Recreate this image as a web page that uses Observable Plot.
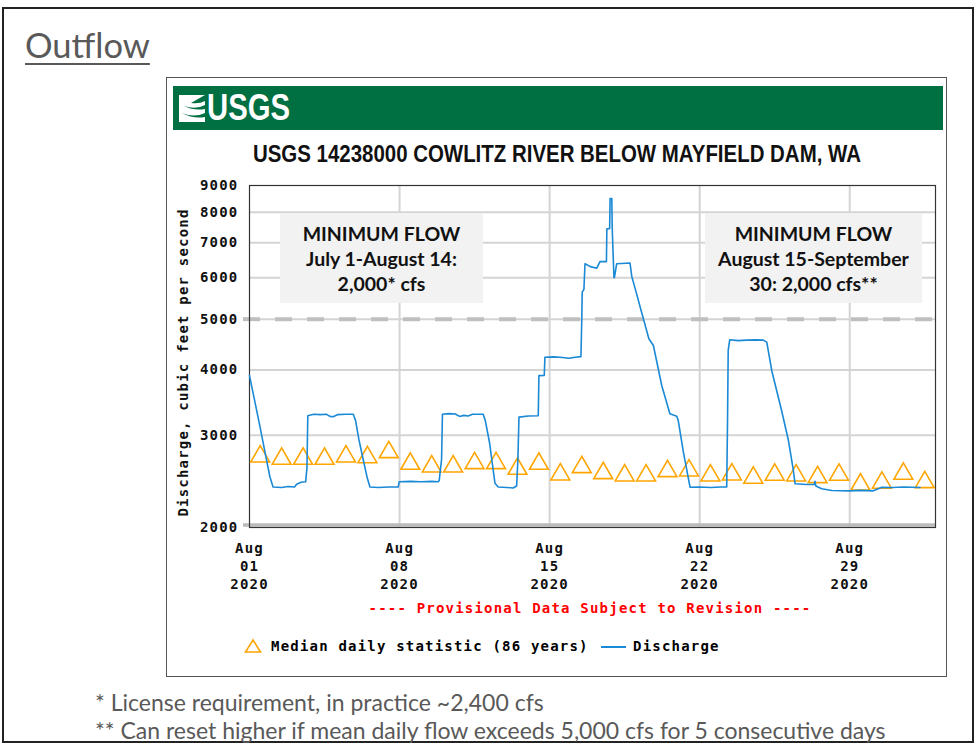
<!DOCTYPE html>
<html><head><meta charset="utf-8">
<script src="https://cdn.jsdelivr.net/npm/d3@7"></script>
<script src="https://cdn.jsdelivr.net/npm/@observablehq/plot@0.6"></script>
<style>
body{margin:0;background:#fff;}
#page{position:relative;width:975px;height:743px;overflow:hidden;font-family:Lato,"Open Sans",sans-serif;}
.abs{position:absolute;}
.mono{font-family:"DejaVu Sans Mono",monospace;font-weight:bold;font-size:14px;letter-spacing:1.2px;white-space:nowrap;}
.box{position:absolute;background:#f2f2f2;display:flex;align-items:center;justify-content:center;text-align:center;font-family:Lato,sans-serif;font-weight:bold;font-size:19.5px;line-height:25px;color:#111;white-space:nowrap;}
.foot{position:absolute;left:95px;font-family:Lato,sans-serif;font-size:23px;color:#595959;white-space:nowrap;}
</style></head><body>
<div id="page">
  <div class="abs" style="left:2px;top:7px;width:968px;height:732px;border:2px solid #222;"></div>
  <div class="abs" style="left:25px;top:24px;font-family:Lato,sans-serif;font-weight:400;font-size:34.5px;color:#595959;text-decoration:underline;text-underline-offset:5px;text-decoration-thickness:2px;">Outflow</div>
  <div class="abs" style="left:166px;top:77px;width:779px;height:598px;border:1px solid #555;"></div>
  <div class="abs" style="left:173px;top:86px;width:770px;height:44px;background:#006f41;"></div>
  <svg class="abs" style="left:178px;top:92px;" width="30" height="32" viewBox="0 0 30 32">
    <path d="M1 3 H27 L13 11 Q22 12 27 9 V13 Q18 18 6 14 Q16 19 27 17 V21 Q16 26 4 21 Q15 27 27 25 V30 H1 Z" fill="#fff"/>
  </svg>
  <div class="abs" style="left:207px;top:86px;height:44px;line-height:44px;color:#fff;font-family:'Liberation Sans',sans-serif;font-weight:bold;font-size:36px;white-space:nowrap;"><span id="logo" style="display:inline-block;transform-origin:left center;">USGS</span></div>
  <div class="abs" style="left:167px;top:140px;width:779px;text-align:center;font-family:'Liberation Sans',sans-serif;font-weight:bold;font-size:24px;color:#111;white-space:nowrap;"><span id="title" style="display:inline-block;transform-origin:center center;">USGS 14238000 COWLITZ RIVER BELOW MAYFIELD DAM, WA</span></div>
  <div class="abs" id="chart" style="left:167px;top:170px;"></div>
  <div class="box" style="left:280px;top:213px;width:203px;height:90px;">MINIMUM FLOW<br>July 1-August 14:<br>2,000* cfs</div>
  <div class="box" style="left:705px;top:213px;width:217px;height:90px;">MINIMUM FLOW<br>August 15-September<br>30: 2,000 cfs**</div>
  <div class="abs mono" style="left:167px;top:600px;width:846px;text-align:center;color:#ff0000;">---- Provisional Data Subject to Revision ----</div>
  <svg class="abs" style="left:244px;top:638px;" width="18" height="16"><path d="M9 2 L16.5 14 L1.5 14 Z" fill="none" stroke="#ffa500" stroke-width="1.6"/></svg>
  <div class="abs mono" style="left:271px;top:638px;">Median daily statistic (86 years)</div>
  <svg class="abs" style="left:600px;top:638px;" width="28" height="18"><line x1="1" x2="26" y1="9" y2="9" stroke="#1a89d6" stroke-width="2"/></svg>
  <div class="abs mono" style="left:633px;top:638px;">Discharge</div>
  <div class="foot" style="top:688px;">* License requirement, in practice ~2,400 cfs</div>
  <div class="foot" style="top:716px;">** Can reset higher if mean daily flow exceeds 5,000 cfs for 5 consecutive days</div>
</div>
<script>
// ---- data ----
const dischargeDays = [0.00,0.25,0.5,0.75,0.95,1.1,1.5,1.8,2.1,2.2,2.4,2.62,2.68,2.72,3.0,3.3,3.6,3.75,3.9,4.1,4.5,4.84,4.95,5.1,5.3,5.5,5.62,6.0,6.5,6.94,6.98,7.5,8.0,8.5,8.8,8.85,8.96,9.0,9.3,9.6,9.8,10.0,10.2,10.4,10.9,11.0,11.2,11.3,11.45,11.6,12.0,12.3,12.46,12.52,12.57,13.0,13.47,13.5,13.75,13.78,14.2,14.6,14.9,15.2,15.46,15.5,15.52,15.6,15.65,15.9,16.2,16.35,16.65,16.67,16.8,16.82,16.9,16.92,17.0,17.02,17.13,17.75,17.83,18.0,18.29,18.63,18.84,19.23,19.61,19.93,20.0,20.24,20.55,21.0,21.5,22.0,22.26,22.3,22.33,22.4,22.8,23.2,23.6,23.97,24.13,24.36,24.82,25.14,25.37,25.45,26.0,26.35,26.38,26.42,26.69,27.16,28.0,28.5,29.1,29.5,30.0,30.5,31.28];
const dischargeCfs = [3900,3480,3100,2750,2500,2390,2385,2395,2390,2420,2440,2445,2600,3270,3290,3285,3290,3260,3255,3285,3290,3290,3200,2950,2700,2480,2390,2385,2390,2390,2445,2450,2445,2450,2445,2460,2700,3290,3300,3295,3260,3275,3265,3290,3290,3200,2900,2700,2430,2390,2385,2380,2400,2700,3250,3265,3270,3900,3905,4230,4235,4225,4210,4230,4240,5000,5630,5700,6380,6300,6256,6440,6440,7440,7440,8500,8500,7440,6013,6000,6380,6400,6040,5700,5156,4587,4453,3735,3298,3263,3200,2785,2388,2390,2385,2390,2390,3226,4357,4566,4550,4560,4565,4560,4520,3990,3346,2932,2570,2424,2416,2416,2450,2400,2371,2353,2350,2355,2350,2388,2385,2390,2385];
const medianDates = ["2020-08-01","2020-08-02","2020-08-03","2020-08-04","2020-08-05","2020-08-06","2020-08-07","2020-08-08","2020-08-09","2020-08-10","2020-08-11","2020-08-12","2020-08-13","2020-08-14","2020-08-15","2020-08-16","2020-08-17","2020-08-18","2020-08-19","2020-08-20","2020-08-21","2020-08-22","2020-08-23","2020-08-24","2020-08-25","2020-08-26","2020-08-27","2020-08-28","2020-08-29","2020-08-30","2020-08-31","2020-09-01"];
const medianCfs = [2733,2705,2705,2705,2733,2724,2785,2646,2615,2615,2654,2654,2589,2646,2525,2608,2540,2514,2514,2562,2570,2514,2525,2489,2522,2514,2495,2522,2416,2435,2533,2441];
const xTicks = ["2020-08-01","2020-08-08","2020-08-15","2020-08-22","2020-08-29"];
const yTicks = [2000,3000,4000,5000,6000,7000,8000,9000];
const minimumFlowThreshold = [5000];
const xDomain = ["2020-08-01","2020-09-02"];
const yDomain = [2000,9000];
const yTitle = "Discharge, cubic feet per second";

// ---- build ----
const start = new Date(xDomain[0]).getTime();
const discharge = dischargeDays.map((d,i)=>({date:new Date(start + d*864e5), cfs:dischargeCfs[i]}));
const median = medianDates.map((d,i)=>({date:new Date(new Date(d).getTime()+12*36e5), cfs:medianCfs[i]}));
const xTickDates = xTicks.map(d=>new Date(d));
const mon = d3.utcFormat("%b"), day = d3.utcFormat("%d"), yr = d3.utcFormat("%Y");
const gridY = yTicks.filter(v=>v!==yDomain[0] && v!==yDomain[1]);
const gridX = xTickDates.slice(1);

const chart = Plot.plot({
  width: 779, height: 430,
  marginLeft: 82, marginRight: 11, marginTop: 15, marginBottom: 73,
  x: {type:"utc", domain: xDomain.map(d=>new Date(d)), axis: null},
  y: {type:"log", domain: yDomain, axis: null},
  style: {fontFamily:"'DejaVu Sans Mono', monospace", fontWeight:"bold", fontSize:"14px", letterSpacing:"1.2px", color:"#111", background:"transparent", overflow:"visible"},
  marks: [
    Plot.ruleX(gridX, {stroke:"#d4d4d4", strokeWidth:2}),
    Plot.ruleY(gridY, {stroke:"#d4d4d4", strokeWidth:2}),
    Plot.ruleY(minimumFlowThreshold, {stroke:"#bfbfbf", strokeWidth:4, strokeDasharray:"17,15", insetLeft:-6, insetRight:-9}),
    Plot.ruleY([yDomain[0]], {stroke:"#bbbbbb", strokeWidth:3.5, dy:-2.5, insetLeft:-6}),
    Plot.frame({stroke:"#333", strokeWidth:1.2}),
    Plot.dot(median, {x:"date", y:"cfs", symbol:"triangle", r:7, stroke:"#ffa500", strokeWidth:1.6, fill:"none"}),
    Plot.line(discharge, {x:"date", y:"cfs", stroke:"#1a89d6", strokeWidth:1.6}),
    Plot.text(yTicks, {y:d=>d, text:d=>String(d), frameAnchor:"left", textAnchor:"end", dx:-11}),
    Plot.text(xTickDates, {x:d=>d, text:d=>`${mon(d)}\n${day(d)}\n${yr(d)}`, frameAnchor:"bottom", lineAnchor:"top", dy:13, lineHeight:1.27}),
    Plot.text([yTitle], {text:d=>d, frameAnchor:"left", textAnchor:"middle", rotate:-90, dx:-66, dy:6})
  ]
});
document.getElementById("chart").appendChild(chart);

// fit condensed header texts to the reference widths
function fitWidth(id, w){
  const el = document.getElementById(id);
  const cur = el.getBoundingClientRect().width;
  if (cur > 0) el.style.transform = `scaleX(${w/cur})`;
}
fitWidth("title", 608);
fitWidth("logo", 83);
</script>
</body></html>
